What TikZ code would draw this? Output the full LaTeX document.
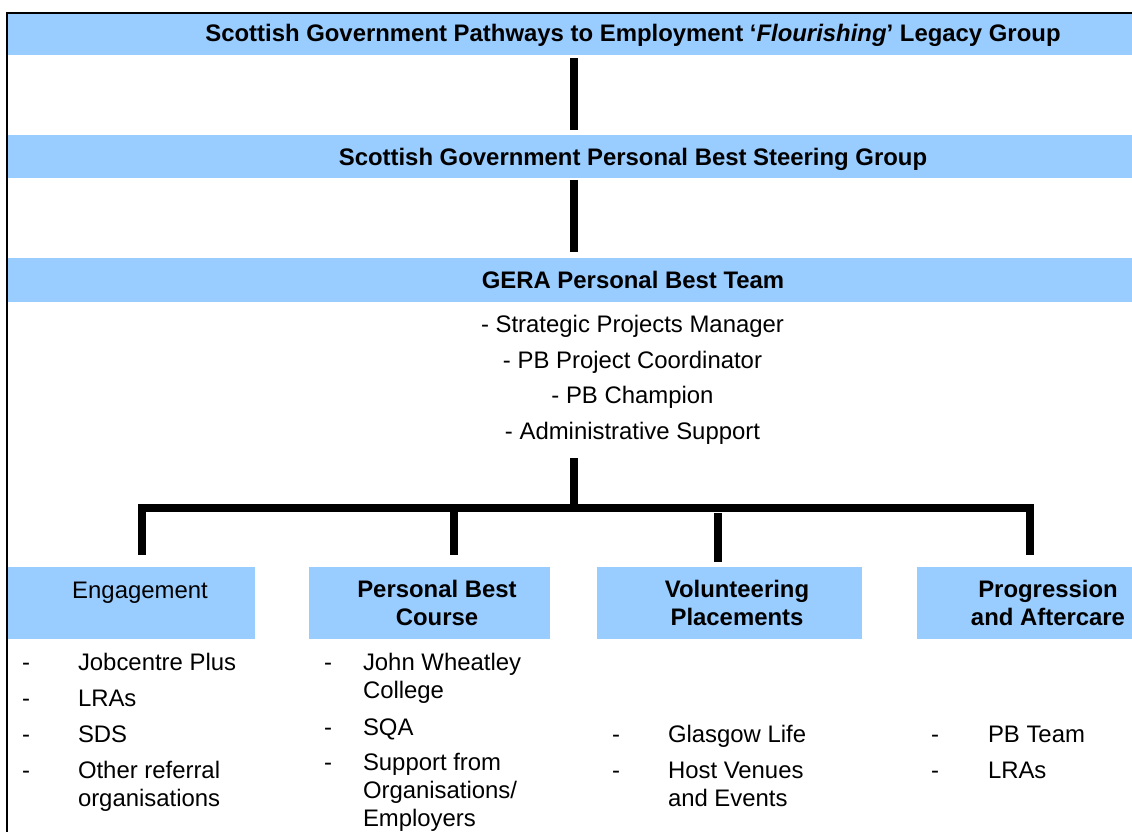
\documentclass[tikz,border=0pt]{standalone}
\usepackage{fontspec}
\setmainfont{Liberation Sans}
\definecolor{bandblue}{HTML}{99CCFF}
\begin{document}
\begin{tikzpicture}[x=1pt,y=-1pt,
  every node/.style={inner sep=0pt,outer sep=0pt},
  txt/.style={font=\fontsize{23.9}{28}\selectfont,anchor=base},
  btxt/.style={font=\fontsize{23.9}{28}\selectfont\bfseries,anchor=base},
  item/.style={font=\fontsize{23.9}{28}\selectfont,anchor=base west},
  band/.style={fill=bandblue,anchor=north west,minimum width=1200pt},
  box/.style={fill=bandblue,anchor=north west,minimum height=71.5pt},
  conn/.style={draw=black,line width=8pt},
  frame/.style={draw=black,line width=2pt},
]
\useasboundingbox (0,0) rectangle (1132,832);
\begin{scope}
\clip (0,0) rectangle (1132,832);
\node[band,minimum height=41pt] (b1) at (8,14) {};
\node[band,minimum height=43pt] (b2) at (8,135) {};
\node[band,minimum height=44pt] (b3) at (8,258) {};
\node[box,minimum width=247pt] (eng) at (8,567) {};
\node[box,minimum width=241pt] (pbc) at (309,567) {};
\node[box,minimum width=265pt] (vol) at (597,567) {};
\node[box,minimum width=260pt] (prog) at (917,567) {};
\draw[frame] (7,900) -- (7,13) -- (1200,13);
\end{scope}

% band titles
\node[btxt] (t1) at (633,42) {Scottish Government Pathways to Employment ‘\textit{Flourishing}’ Legacy Group};
\node[btxt] (t2) at (633,165) {Scottish Government Personal Best Steering Group};
\node[btxt] (t3) at (633,288) {GERA Personal Best Team};

% team members
\node[txt] (m1) at (632.5,332.5) {- Strategic Projects Manager};
\node[txt] (m2) at (632.5,368) {- PB Project Coordinator};
\node[txt] (m3) at (632.5,403.5) {- PB Champion};
\node[txt] (m4) at (632.5,439.5) {- Administrative Support};

% box headings
\node[txt] (h1) at (140,598) {Engagement};
\node[btxt] (h2a) at (437,597) {Personal Best};
\node[btxt] (h2b) at (437,625) {Course};
\node[btxt] (h3a) at (737,597) {Volunteering};
\node[btxt] (h3b) at (737,625) {Placements};
\node[btxt] (h4a) at (1048,597) {Progression};
\node[btxt] (h4b) at (1048,625) {and Aftercare};

% Engagement list
\node[item] (e1d) at (22,670) {-};
\node[item] (e1) at (78,670) {Jobcentre Plus};
\node[item] (e2d) at (22,706) {-};
\node[item] (e2) at (78,706) {LRAs};
\node[item] (e3d) at (22,742) {-};
\node[item] (e3) at (78,742) {SDS};
\node[item] (e4d) at (22,778) {-};
\node[item] (e4) at (78,778) {Other referral};
\node[item] (e4b) at (78,806) {organisations};

% Personal Best Course list
\node[item] (p1d) at (324,670) {-};
\node[item] (p1) at (363,670) {John Wheatley};
\node[item] (p1b) at (363,698) {College};
\node[item] (p2d) at (324,735) {-};
\node[item] (p2) at (363,735) {SQA};
\node[item] (p3d) at (324,770) {-};
\node[item] (p3) at (363,770) {Support from};
\node[item] (p3b) at (363,798) {Organisations/};
\node[item] (p3c) at (363,826) {Employers};

% Volunteering list
\node[item] (v1d) at (612,742) {-};
\node[item] (v1) at (668,742) {Glasgow Life};
\node[item] (v2d) at (612,778) {-};
\node[item] (v2) at (668,778) {Host Venues};
\node[item] (v2b) at (668,806) {and Events};

% Progression list
\node[item] (g1d) at (931,742) {-};
\node[item] (g1) at (988,742) {PB Team};
\node[item] (g2d) at (931,778) {-};
\node[item] (g2) at (988,778) {LRAs};

% connectors
\coordinate (trunkx) at (574,0);
\coordinate (bar) at (574,507.5);
\coordinate (barL) at (142,507.5);
\coordinate (barR) at (1030,507.5);
\coordinate (pbx) at (453.5,507.5);
\coordinate (volx) at (718,513);
\draw[conn] ([yshift=-3pt]b1.south -| trunkx) -- ([yshift=5pt]b2.north -| trunkx);
\draw[conn] ([yshift=-2pt]b2.south -| trunkx) -- ([yshift=6pt]b3.north -| trunkx);
\draw[conn] ([yshift=-14pt]m4.south -| trunkx) -- (bar);
\draw[conn] ([yshift=12pt]eng.north -| barL) -- (barL) -- (barR) -- ([yshift=12pt]prog.north -| barR);
\draw[conn] (pbx) -- ([yshift=12pt]pbc.north -| pbx);
\draw[conn] (volx) -- ([yshift=5pt]vol.north -| volx);
\end{tikzpicture}
\end{document}
